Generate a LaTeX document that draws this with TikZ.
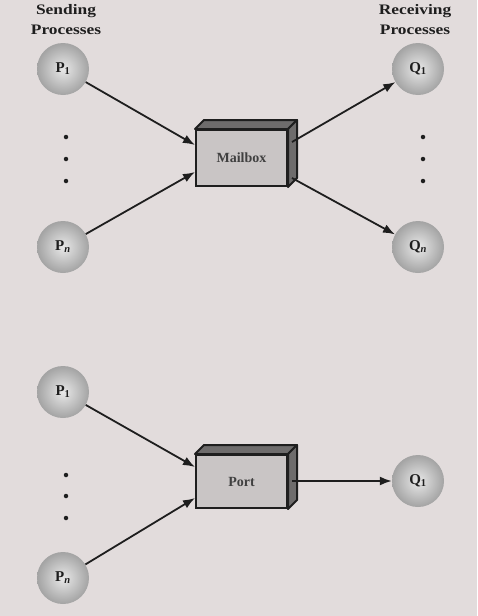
\documentclass[tikz,border=0pt]{standalone}
\usepackage{fontspec}
\setmainfont{Liberation Serif}
\usetikzlibrary{arrows.meta,shadings}
\definecolor{bg}{HTML}{E2DCDC}
\definecolor{ink}{HTML}{1E1E1E}
\definecolor{front}{HTML}{C9C5C5}
\definecolor{side}{HTML}{6E6C6C}
\tikzset{
  proc/.style={circle, minimum size=52pt, inner sep=0pt, text=ink,
    font=\bfseries\fontsize{15}{15}\selectfont,
    shading=radial, inner color=gray!18, outer color=gray!72},
  title/.style={align=center, text=ink, font=\bfseries\fontsize{14.5}{20}\selectfont, xscale=1.2},
  boxnode/.style={rectangle, draw=ink, line width=2pt, fill=front, text=ink!85,
    font=\bfseries\fontsize{14}{14}\selectfont, inner sep=0pt},
  boxside/.style={draw=ink, line width=2pt, fill=side, line join=round},
  conn/.style={draw=ink, line width=1.8pt, -{Latex[length=12pt,width=9pt]}},
  dot/.style={circle, fill=ink, inner sep=0pt, minimum size=4.5pt}
}
\begin{document}
\begin{tikzpicture}[x=1pt,y=-1pt]
\fill[bg] (0,0) rectangle (477,616);
\useasboundingbox (0,0) rectangle (477,616);

% titles
\node[title] (ts) at (66,20) {Sending\\Processes};
\node[title] (tr) at (415,20) {Receiving\\Processes};

% ---- top: mailbox ----
\node[proc] (P1) at (63,69) {P\textsubscript{1}};
\node[proc] (Pn) at (63,247) {P\textsubscript{\itshape n}};
\node[proc] (Q1) at (418,69) {Q\textsubscript{1}};
\node[proc] (Qn) at (418,247) {Q\textsubscript{\itshape n}};

\node[dot] (ld1) at (66,137) {};
\node[dot] (ld2) at (66,159) {};
\node[dot] (ld3) at (66,181) {};
\node[dot] (rd1) at (423,137) {};
\node[dot] (rd2) at (423,159) {};
\node[dot] (rd3) at (423,181) {};

\node[boxnode, minimum width=91pt, minimum height=56pt] (mb) at (241.5,158) {Mailbox};
\draw[boxside] (mb.north west) -- ++(9,-9) -- ([shift={(9,-9)}]mb.north east) -- (mb.north east) -- cycle;
\draw[boxside] (mb.north east) -- ++(9,-9) -- ([shift={(9,-9)}]mb.south east) -- (mb.south east) -- cycle;

\draw[conn] (P1) -- ([yshift=13pt]mb.west);
\draw[conn] (Pn) -- ([yshift=-14pt]mb.west);
\coordinate (mbo1) at ([xshift=4pt,yshift=16pt]mb.east);
\coordinate (mbo2) at ([xshift=4pt,yshift=-20pt]mb.east);
\draw[conn] (mbo1) -- (Q1);
\draw[conn] (mbo2) -- (Qn);

% ---- bottom: port ----
\node[proc] (bP1) at (63,392) {P\textsubscript{1}};
\node[proc] (bPn) at (63,578) {P\textsubscript{\itshape n}};
\node[proc] (bQ1) at (418,481) {Q\textsubscript{1}};

\node[dot] (bd1) at (66,475) {};
\node[dot] (bd2) at (66,496) {};
\node[dot] (bd3) at (66,518) {};

\node[boxnode, minimum width=91pt, minimum height=53pt] (pt) at (241.5,481.5) {Port};
\draw[boxside] (pt.north west) -- ++(9,-9) -- ([shift={(9,-9)}]pt.north east) -- (pt.north east) -- cycle;
\draw[boxside] (pt.north east) -- ++(9,-9) -- ([shift={(9,-9)}]pt.south east) -- (pt.south east) -- cycle;

\draw[conn] (bP1) -- ([yshift=14.5pt]pt.west);
\draw[conn] (bPn) -- ([yshift=-16.5pt]pt.west);
\coordinate (pto) at ([xshift=4pt,yshift=0.5pt]pt.east);
\draw[conn] (pto) -- (bQ1);
\end{tikzpicture}
\end{document}
